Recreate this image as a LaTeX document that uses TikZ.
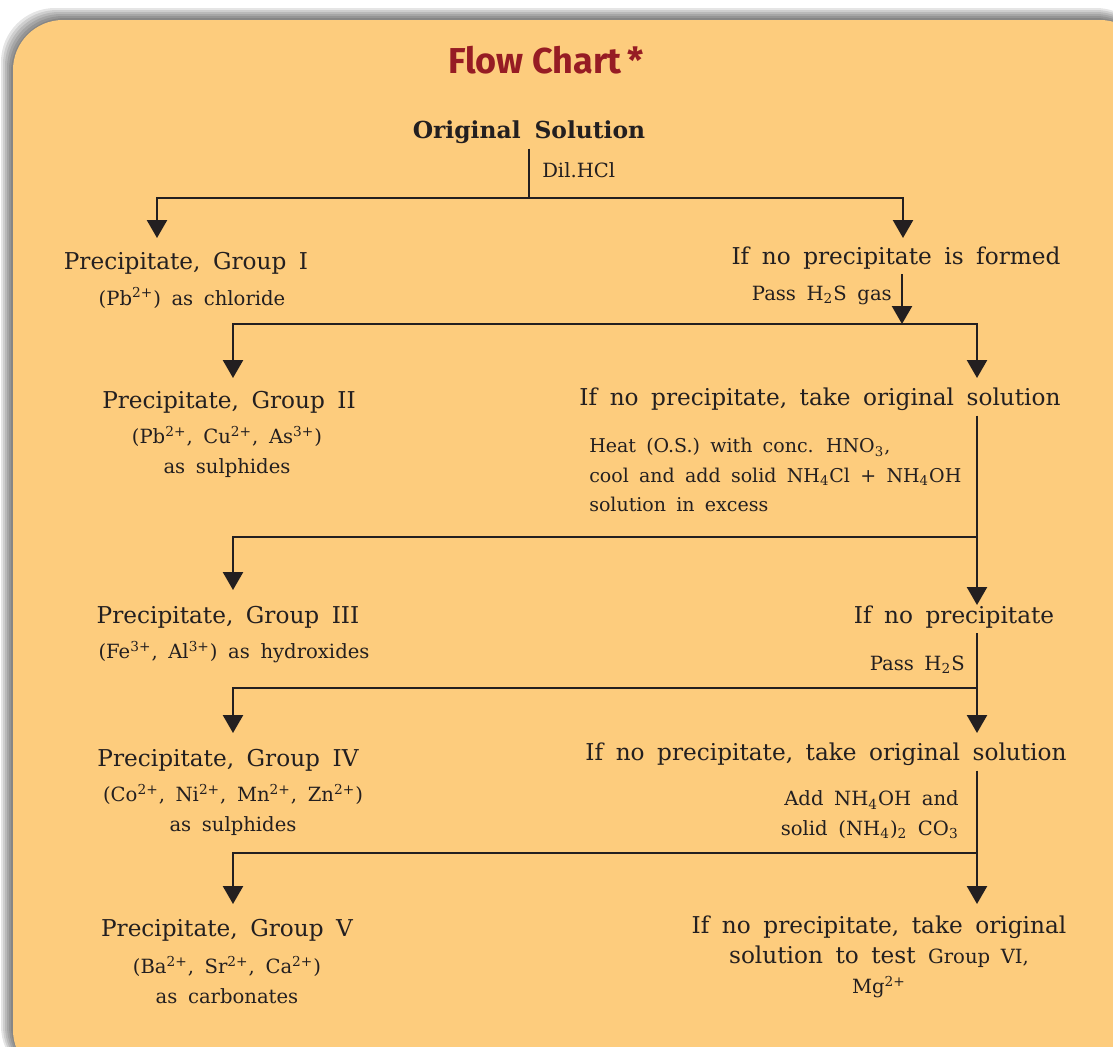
\documentclass[tikz,border=0pt]{standalone}
\usepackage{fontspec}
\setmainfont[WordSpace=1.7]{DejaVu Serif}
\newfontfamily\titlefont{Fira Sans}
\usetikzlibrary{arrows.meta,positioning}
\definecolor{chartbg}{RGB}{253,204,125}
\definecolor{titlered}{RGB}{150,28,36}
\definecolor{ink}{RGB}{35,31,32}
\newcommand\mainsize{\fontsize{11.6}{15}\selectfont}
\newcommand\smallsize{\fontsize{9.8}{14.8}\selectfont}
\begin{document}
\begin{tikzpicture}[x=0.5pt,y=-0.5pt,line width=1.25pt,color=ink,>={Triangle[width=10pt,length=9pt]},
  stage/.style={text=ink,font=\mainsize,inner sep=2pt,align=center},
  ions/.style={text=ink,font=\smallsize,inner sep=2pt,align=center},
  note/.style={text=ink,font=\smallsize,inner sep=0pt}]
\clip (0,0) rectangle (1113,1046);
% card with its shadow
\foreach \d in {2,4,...,12}{\fill[black,opacity=0.1,rounded corners=27pt] ({13-\d},{20-\d}) rectangle (1150,1080);}
\fill[chartbg,rounded corners=25pt] (13,20) rectangle (1150,1080);
\node[text=titlered,font=\titlefont\bfseries\fontsize{18}{20}\selectfont] (title) at (546,60) {Flow Chart\,*};
% stages
\node[stage,font=\bfseries\fontsize{11.7}{14}\selectfont] (orig) at (529,132) {Original Solution};
\node[stage] (grp1) at (186,263) {Precipitate, Group I};
\node[ions] (ion1) at (192,298) {(Pb\textsuperscript{2+}) as chloride};
\node[stage] (nop1) at (896,258) {If no precipitate is formed};
\node[stage] (grp2) at (229,402) {Precipitate, Group II};
\node[ions] (ion2) at (227,452) {(Pb\textsuperscript{2+}, Cu\textsuperscript{2+}, As\textsuperscript{3+})\\as sulphides};
\node[stage] (nop2) at (820,399) {If no precipitate, take original solution};
\node[stage] (grp3) at (228,617) {Precipitate, Group III};
\node[ions] (ion3) at (234,652) {(Fe\textsuperscript{3+}, Al\textsuperscript{3+}) as hydroxides};
\node[stage] (nop3) at (954,617) {If no precipitate};
\node[stage] (grp4) at (228,760) {Precipitate, Group IV};
\node[ions] (ion4) at (233,810) {(Co\textsuperscript{2+}, Ni\textsuperscript{2+}, Mn\textsuperscript{2+}, Zn\textsuperscript{2+})\\as sulphides};
\node[stage] (nop4) at (826,754) {If no precipitate, take original solution};
\node[stage] (grp5) at (227,930) {Precipitate, Group V};
\node[ions] (ion5) at (227,980) {(Ba\textsuperscript{2+}, Sr\textsuperscript{2+}, Ca\textsuperscript{2+})\\as carbonates};
\node[stage] (nop5) at (879,957) {If no precipitate, take original\\solution to test {\smallsize Group VI,}\\{\smallsize Mg\textsuperscript{2+}}};
% reagents
\node[note,anchor=west] (dil) at (541,170) {Dil.HCl};
\node[note,anchor=east] (hs1) at (893,295) {Pass H\textsubscript{2}S gas};
\node[note,anchor=north west,align=left,font=\fontsize{9.5}{14.8}\selectfont] (heat) at (588,437) {Heat (O.S.) with conc. HNO\textsubscript{3},\\cool and add solid NH\textsubscript{4}Cl + NH\textsubscript{4}OH\\solution in excess};
\node[note,anchor=east] (hs2) at (966,665) {Pass H\textsubscript{2}S};
\node[note,anchor=east,align=right] (carb) at (960,815) {Add NH\textsubscript{4}OH and\\solid (NH\textsubscript{4})\textsubscript{2} CO\textsubscript{3}};
% split points and arrow ends
\coordinate (b1) at (529,198);
\coordinate (b2) at (902,324);
\coordinate (b3) at (977,537);
\coordinate (b4) at (977,688);
\coordinate (b5) at (977,853);
\coordinate (a1l) at (157,238);
\coordinate (a1r) at (903,238);
\coordinate (a2l) at (233,378);
\coordinate (a2r) at (977,378);
\coordinate (a3l) at (233,590);
\coordinate (a3r) at (977,605);
\coordinate (a4l) at (233,733);
\coordinate (a4r) at (977,733);
\coordinate (a5l) at (233,904);
\coordinate (a5r) at (977,904);
% connectors
\draw (orig.south) -- (b1);
\draw[->] (nop1.south -| b2) -- (b2);
\draw[->] (nop2.south -| a2r) -- (a3r);
\draw[->] (nop3.south -| a3r) -- (a4r);
\draw[->] (nop4.south -| a4r) -- (a5r);
\foreach \p/\q in {b1/a1l,b1/a1r,b2/a2l,b2/a2r,b3/a3l,b4/a4l,b5/a5l}{\draw[->] (\p) -| (\q);}
\end{tikzpicture}
\end{document}
